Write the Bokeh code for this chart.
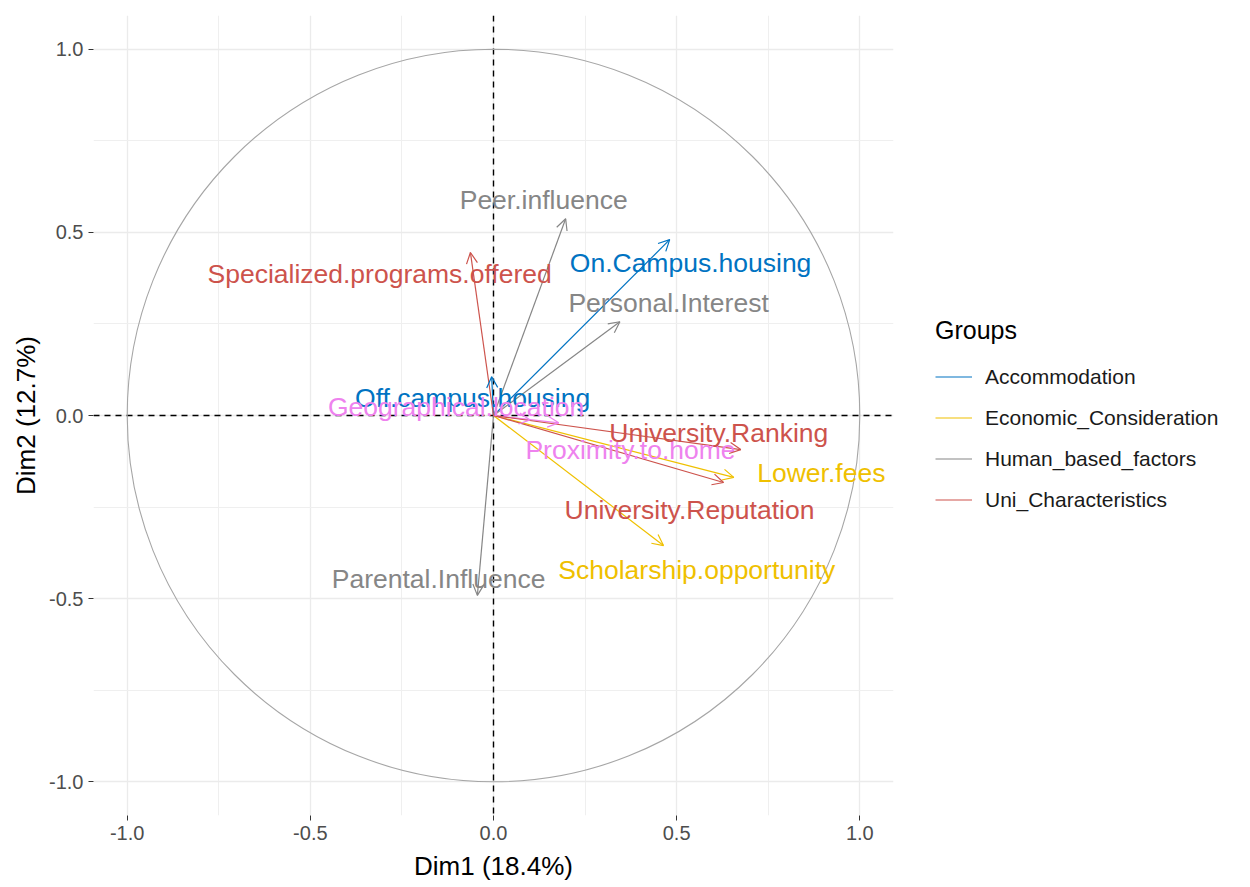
from bokeh.plotting import figure
from bokeh.models import (Range1d, Span, Arrow, OpenHead, ColumnDataSource, FixedTicker,
                          Legend, LegendItem)
from bokeh.embed import file_html
from bokeh.resources import INLINE
from bokeh.core.properties import value

# ---------------- data ----------------
variables = ["Peer.influence", "Specialized.programs.offered", "On.Campus.housing",
             "Personal.Interest", "Off.campus.housing", "Geographical.location",
             "University.Ranking", "Proximity.to.home", "Lower.fees",
             "University.Reputation", "Scholarship.opportunity", "Parental.Influence"]
groups = ["Human_based_factors", "Uni_Characteristics", "Accommodation",
          "Human_based_factors", "Accommodation", "Location",
          "Uni_Characteristics", "Location", "Economic_Consideration",
          "Uni_Characteristics", "Economic_Consideration", "Human_based_factors"]
dim1 = [0.197, -0.063, 0.481, 0.345, -0.005, 0.100, 0.675, 0.178, 0.656, 0.628, 0.464, -0.044]
dim2 = [0.537, 0.445, 0.480, 0.256, 0.106, -0.012, -0.093, -0.020, -0.169, -0.183, -0.355, -0.491]
label_x = [0.137, -0.311, 0.538, 0.478, -0.057, -0.102, 0.615, 0.374, 0.895, 0.535, 0.555, -0.150]
label_y = [0.587, 0.387, 0.417, 0.308, 0.049, 0.023, -0.049, -0.093, -0.156, -0.259, -0.423, -0.447]

legend_groups = ["Accommodation", "Economic_Consideration", "Human_based_factors", "Uni_Characteristics"]
draw_order = ["Accommodation", "Economic_Consideration", "Human_based_factors", "Location", "Uni_Characteristics"]
colors = {"Accommodation": "#0073C2", "Economic_Consideration": "#EFC000",
          "Human_based_factors": "#868686", "Uni_Characteristics": "#CD534C",
          "Location": "#EE82EE"}

x_ticks = [-1.0, -0.5, 0.0, 0.5, 1.0]
y_ticks = [-1.0, -0.5, 0.0, 0.5, 1.0]
x_title = "Dim1 (18.4%)"
y_title = "Dim2 (12.7%)"
legend_title = "Groups"

FONT = "Liberation Sans"

# ---------------- figure ----------------
p = figure(frame_width=800, frame_height=800,
           x_range=Range1d(-1.092, 1.092), y_range=Range1d(-1.092, 1.092),
           output_backend="svg", toolbar_location=None,
           min_border_left=93, min_border_right=10, min_border_top=15, min_border_bottom=72,
           background_fill_color="white", border_fill_color="white", outline_line_color=None)

minor_x = [(a + b) / 2 for a, b in zip(x_ticks[:-1], x_ticks[1:])]
minor_y = [(a + b) / 2 for a, b in zip(y_ticks[:-1], y_ticks[1:])]
p.xgrid.ticker = FixedTicker(ticks=x_ticks, minor_ticks=minor_x)
p.ygrid.ticker = FixedTicker(ticks=y_ticks, minor_ticks=minor_y)
for g in (p.xgrid, p.ygrid):
    g.grid_line_color = "#EBEBEB"
    g.grid_line_width = 1.3
    g.minor_grid_line_color = "#EFEFEF"
    g.minor_grid_line_width = 1.0

p.xaxis.ticker = FixedTicker(ticks=x_ticks)
p.yaxis.ticker = FixedTicker(ticks=y_ticks)
p.xaxis.major_label_overrides = {t: f"{t:.1f}" for t in x_ticks}
p.yaxis.major_label_overrides = {t: f"{t:.1f}" for t in y_ticks}
p.xaxis.axis_label = x_title
p.yaxis.axis_label = y_title
for ax in (p.xaxis, p.yaxis):
    ax.axis_line_color = None
    ax.major_tick_line_color = "#333333"
    ax.major_tick_out = 5
    ax.major_tick_in = 0
    ax.minor_tick_out = 0
    ax.minor_tick_in = 0
    ax.major_label_text_font = FONT
    ax.major_label_text_font_size = "20px"
    ax.major_label_text_color = "#4D4D4D"
    ax.major_label_standoff = 5
    ax.axis_label_text_font = FONT
    ax.axis_label_text_font_size = "26px"
    ax.axis_label_text_font_style = "normal"
    ax.axis_label_text_color = "#000000"
p.xaxis.axis_label_standoff = 8
p.yaxis.axis_label_standoff = 5

# correlation circle
p.circle(x=[0], y=[0], radius=1, radius_units="data", fill_color=None,
         line_color="#A6A6A6", line_width=1.1)

# dashed reference lines
p.add_layout(Span(location=0, dimension="width", line_color="black", line_width=1.4,
                  line_dash="6 5", level="underlay"))
p.add_layout(Span(location=0, dimension="height", line_color="black", line_width=1.4,
                  line_dash="6 5", level="underlay"))

# arrows per group: shaft as segment glyph, open head as Arrow annotation
shaft_renderers = {}
for grp in draw_order:
    idx = [i for i, g in enumerate(groups) if g == grp]
    src = ColumnDataSource(dict(x0=[0.0] * len(idx), y0=[0.0] * len(idx),
                                x1=[dim1[i] for i in idx], y1=[dim2[i] for i in idx]))
    c = colors[grp]
    shaft_renderers[grp] = p.segment(x0="x0", y0="y0", x1="x1", y1="y1", source=src,
                                     line_color=c, line_width=1.2)
    p.add_layout(Arrow(end=OpenHead(size=11, line_color=c, line_width=1.2),
                       x_start="x0", y_start="y0", x_end="x1", y_end="y1",
                       source=src, line_alpha=0.0, line_width=1.2))

# labels per group
for grp in draw_order:
    idx = [i for i, g in enumerate(groups) if g == grp]
    p.text(x=[label_x[i] for i in idx], y=[label_y[i] for i in idx],
           text=[variables[i] for i in idx], text_color=colors[grp],
           text_font=value(FONT), text_font_size="26.5px",
           text_align="center", text_baseline="middle")

# ---------------- legend ----------------
legend = Legend(items=[LegendItem(label=g, renderers=[shaft_renderers[g]]) for g in legend_groups],
                location="left", title=legend_title,
                title_text_font=FONT, title_text_font_size="25px", title_text_font_style="normal",
                title_text_color="#000000", title_standoff=17,
                label_text_font=FONT, label_text_font_size="21px", label_text_color="#1A1A1A",
                glyph_width=37, glyph_height=30, label_height=30, label_standoff=13,
                spacing=11, padding=10, margin=42, border_line_color=None,
                background_fill_alpha=0.0)
p.add_layout(legend, "right")

open("out.html", "w").write(file_html(p, INLINE))
